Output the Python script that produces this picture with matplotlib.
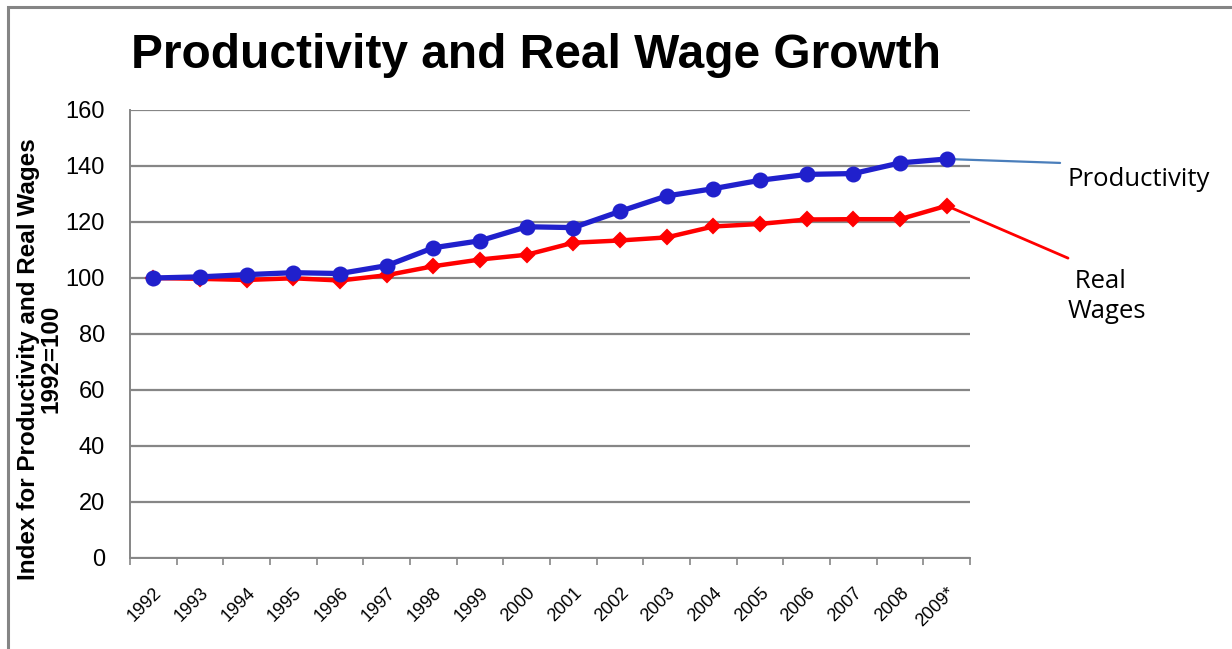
import matplotlib
matplotlib.use("Agg")
import matplotlib.pyplot as plt
from matplotlib.patches import Rectangle
from matplotlib.ticker import FixedLocator

years = ["1992", "1993", "1994", "1995", "1996", "1997", "1998", "1999", "2000",
         "2001", "2002", "2003", "2004", "2005", "2006", "2007", "2008", "2009*"]
productivity = [100.0, 100.4, 101.2, 101.9, 101.6, 104.4, 110.8, 113.3, 118.3,
                118.0, 123.8, 129.3, 131.9, 134.9, 137.0, 137.3, 141.1, 142.5]
real_wages = [100.0, 99.7, 99.3, 99.9, 99.1, 101.0, 104.2, 106.6, 108.3,
              112.6, 113.4, 114.5, 118.4, 119.3, 120.9, 121.0, 121.0, 125.8]
y_ticks = [0, 20, 40, 60, 80, 100, 120, 140, 160]

W, H = 1232, 649
fig = plt.figure(figsize=(W / 100, H / 100), dpi=100)
fig.patch.set_facecolor("white")

# outer frame (only top and left edges fall inside the canvas)
fig.add_artist(Rectangle((8 / W, -0.1), 1.2, 1 - 7 / H + 0.1, transform=fig.transFigure,
                         fill=False, edgecolor="#858585", linewidth=2.2))

ax = fig.add_axes([130 / W, 1 - 558 / H, (970 - 130) / W, (558 - 110) / H])
x = list(range(len(years)))

ax.plot(x, real_wages, color="#FF0000", linewidth=3.2, marker="D", markersize=7,
        markeredgewidth=1.5, zorder=3)
ax.plot(x, productivity, color="#2020CC", linewidth=3.8, marker="o", markersize=10.5,
        zorder=4)

ax.set_xlim(-0.5, len(years) - 0.5)
ax.set_ylim(0, 160)
ax.yaxis.set_major_locator(FixedLocator(y_ticks))
ax.set_yticklabels([str(v) for v in y_ticks], fontsize=17, family="Liberation Sans")
ax.tick_params(axis="y", length=0, pad=18)
ax.yaxis.grid(True, color="#868686", linewidth=1.6)
ax.set_axisbelow(True)

ax.set_xticks(x)
ax.set_xticklabels(years, rotation=45, ha="right", rotation_mode="anchor",
                   fontsize=13, family="Liberation Sans")
ax.tick_params(axis="x", which="major", length=0, pad=19)
ax.set_xticks([i - 0.5 for i in range(len(years) + 1)], minor=True)
ax.tick_params(axis="x", which="minor", length=5, width=1.2, color="#868686")

for side in ("top", "right"):
    ax.spines[side].set_visible(False)
for side in ("left", "bottom"):
    ax.spines[side].set_color("#868686")
    ax.spines[side].set_linewidth(1.4)

# series call-outs to the right of the plot
last = len(years) - 1
ax.annotate("", xy=(last, productivity[-1]), xytext=(19.43, 141.1),
            arrowprops=dict(arrowstyle="-", color="#4A7EBB", linewidth=1.6,
                            shrinkA=0, shrinkB=0), annotation_clip=False)
ax.annotate("", xy=(last, real_wages[-1]), xytext=(19.6, 107.1),
            arrowprops=dict(arrowstyle="-", color="#FF0000", linewidth=2,
                            shrinkA=0, shrinkB=0), annotation_clip=False)
ax.text(19.6, 135.0, "Productivity", fontsize=18.5, family="Open Sans",
        va="center", ha="left", clip_on=False)
ax.text(19.6, 93.3, " Real\nWages", fontsize=18.5, family="Open Sans",
        va="center", ha="left", linespacing=1.25, clip_on=False)

fig.text(536 / W, 1 - 55 / H, "Productivity and Real Wage Growth", fontsize=34.5,
         fontweight="bold", family="Liberation Sans", ha="center", va="center")
fig.text(40 / W, 1 - 359 / H, "Index for Productivity and Real Wages\n1992=100",
         rotation=90, fontsize=17.5, fontweight="bold", family="Liberation Sans",
         ha="center", va="center", multialignment="center", linespacing=1.0)

fig.savefig("out.png", dpi=100)
